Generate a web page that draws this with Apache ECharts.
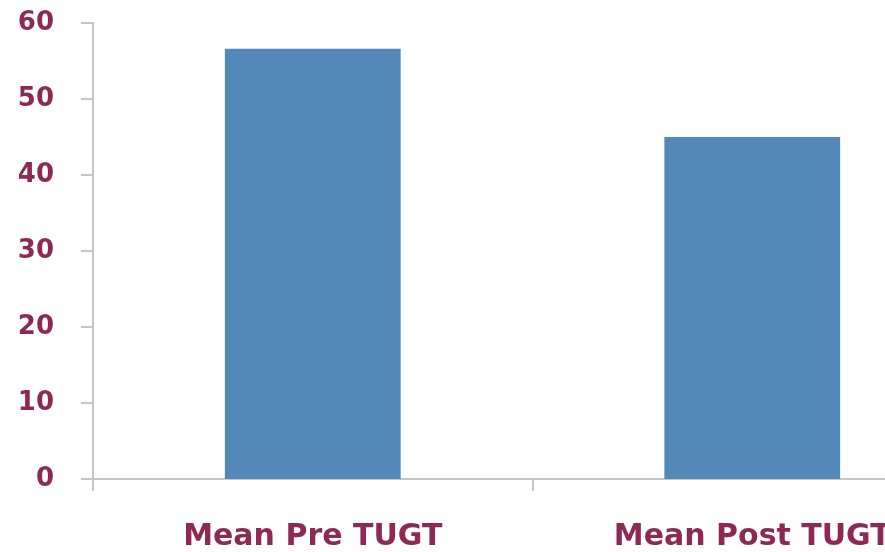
<!DOCTYPE html>
<html>
<head>
<meta charset="utf-8">
<script src="https://cdn.jsdelivr.net/npm/echarts@6/dist/echarts.min.js"></script>
<style>
  html, body { margin: 0; padding: 0; background: #ffffff; overflow: hidden; }
  /* the plot runs on past the right edge of the window */
  #chart { width: 972px; height: 552px; }
</style>
</head>
<body>
<div id="chart"></div>
<script>
// Timed Up and Go Test means, before and after
const categories = ['Mean Pre TUGT', 'Mean Post TUGT'];
const meanValues = [56.6, 45.0];
const yTicks = { min: 0, max: 60, interval: 10 };

const labelColor = '#8c2a55';
const axisGrey = '#c6c6c6';

const chart = echarts.init(document.getElementById('chart'));
chart.setOption({
  animation: false,
  backgroundColor: '#ffffff',
  grid: { left: 93, right: 0, top: 23, bottom: 72 },
  xAxis: {
    type: 'category',
    data: categories,
    axisLine: { show: true, lineStyle: { color: axisGrey, width: 2 } },
    axisTick: { show: true, length: 12, lineStyle: { color: axisGrey, width: 2 } },
    axisLabel: {
      color: labelColor,
      fontFamily: 'DejaVu Sans',
      fontWeight: 'bold',
      fontSize: 30,
      margin: 43
    }
  },
  yAxis: {
    type: 'value',
    min: yTicks.min,
    max: yTicks.max,
    interval: yTicks.interval,
    splitLine: { show: false },
    axisLine: { show: true, lineStyle: { color: axisGrey, width: 2 } },
    axisTick: { show: true, length: 12, lineStyle: { color: axisGrey, width: 2 } },
    axisLabel: {
      color: labelColor,
      fontFamily: 'DejaVu Sans',
      fontWeight: 'bold',
      fontSize: 26,
      margin: 39
    }
  },
  series: [{
    type: 'bar',
    data: meanValues,
    barWidth: '40%',
    itemStyle: { color: '#5289b8' }
  }]
});
</script>
</body>
</html>
